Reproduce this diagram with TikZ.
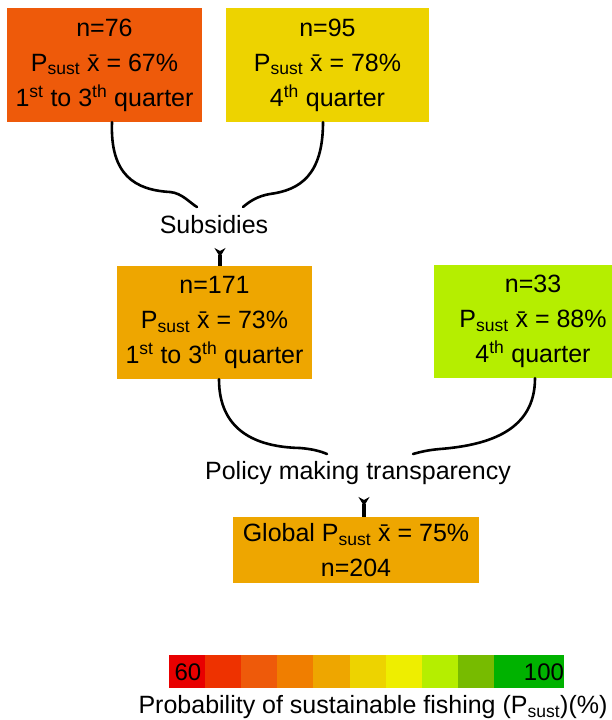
\documentclass[tikz,border=0pt]{standalone}
\usepackage{fontspec}
\setmainfont{Liberation Sans}
\usepackage{tikz}
\usetikzlibrary{arrows.meta,calc}
\definecolor{pRed}{HTML}{E80000}
\definecolor{pRedOr}{HTML}{EE3200}
\definecolor{pOrRed}{HTML}{EE5A0A}
\definecolor{pOr}{HTML}{F07E00}
\definecolor{pOrYel}{HTML}{EEA600}
\definecolor{pYel}{HTML}{EDD300}
\definecolor{pYelLt}{HTML}{EEEE00}
\definecolor{pLime}{HTML}{B5EE00}
\definecolor{pGrLt}{HTML}{77BB00}
\definecolor{pGr}{HTML}{00B200}
\newcommand{\psust}{P\textsubscript{sust}}
\newcommand{\xbar}{\=x}

\begin{document}
\begin{tikzpicture}[x=1pt,y=-1pt,
  box/.style={align=center,inner sep=0pt,minimum width=195pt,minimum height=114pt,font=\fontsize{25}{35}\selectfont},
  lbl/.style={font=\fontsize{25}{30}\selectfont},
  brace/.style={line width=2.6pt,line cap=round},
  flow/.style={line width=3.4pt,{Stealth[reversed,length=9pt,width=11pt,inset=3pt]}-}]
\useasboundingbox (0,0) rectangle (612,720);
\fill[white] (0,0) rectangle (612,720);
% first level
\node[box,fill=pOrRed] (q13a) at (104.5,65) {n=76\\ \psust{} \xbar{} = 67\%\\ 1\textsuperscript{st} to 3\textsuperscript{th} quarter};
\node[box,fill=pYel,minimum width=203pt] (q4a) at (327.5,65) {n=95\\ \psust{} \xbar{} = 78\%\\ 4\textsuperscript{th} quarter};
\node[lbl] (subs) at (214,225) {Subsidies};
\coordinate (subsL) at (197,207);
\coordinate (subsR) at (243,207);
\draw[brace] ([xshift=7.5pt]q13a.south) .. controls (110,175) and (135,190) .. (170,192) .. controls (182,193) and (190,203) .. (subsL);
\draw[brace] ([xshift=-4.5pt]q4a.south) .. controls (323,175) and (300,190) .. (270,194) .. controls (258,196) and (250,201) .. (subsR);
% second level
\node[box,fill=pOrYel,minimum height=113pt] (q13b) at (214.5,322.5) {n=171\\ \psust{} \xbar{} = 73\%\\ 1\textsuperscript{st} to 3\textsuperscript{th} quarter};
\node[box,fill=pLime,minimum width=198pt,minimum height=113pt] (q4b) at (533,321.5) {n=33\\ \psust{} \xbar{} = 88\%\\ 4\textsuperscript{th} quarter};
\draw[flow] (220,248) -- ([xshift=5.5pt]q13b.north);
\node[lbl] (policy) at (358,473) {Policy making transparency};
\coordinate (polL) at (327,454);
\coordinate (polR) at (413,454);
\draw[brace] ([xshift=4.5pt]q13b.south) .. controls (219,430) and (255,447) .. (300,448) .. controls (312,449) and (320,451) .. (polL);
\draw[brace] ([xshift=2pt]q4b.south) .. controls (535,430) and (490,445) .. (440,449) .. controls (428,450) and (420,452) .. (polR);
% global
\node[box,fill=pOrYel,minimum width=246pt,minimum height=66pt] (global) at (356,550) {Global \psust{} \xbar{} = 75\%\\ n=204};
\draw[flow] (364,497) -- ([xshift=8pt]global.north);
% colour scale
\foreach \c [count=\i from 0] in {pRed,pRedOr,pOrRed,pOr,pOrYel,pYel,pYelLt,pLime,pGrLt}
  \fill[\c] (169+36.1*\i,655) rectangle (169+36.1*\i+36.1,688);
\fill[pGr] (494,655) rectangle (564,688);
\node[font=\fontsize{24}{28}\selectfont] (lo) at (188,672) {60};
\node[font=\fontsize{24}{28}\selectfont] (hi) at (544,672) {100};
\node[lbl] (scale) at (373,707) {Probability of sustainable fishing (\psust)(\%)};
\end{tikzpicture}
\end{document}
